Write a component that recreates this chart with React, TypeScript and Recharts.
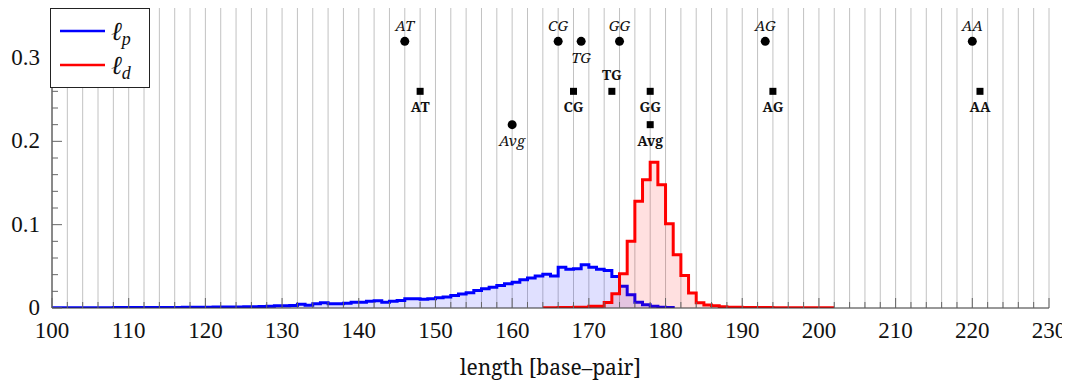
import { ComposedChart, Area, Scatter, XAxis, YAxis, CartesianGrid } from 'recharts';

// histogram of ℓ_p, bins of width 1 starting at 100
const LP_START = 100;
const LP_VALUES = [
  0.0003, 0.0003, 0.0003, 0.0003, 0.0003, 0.0003, 0.0003, 0.0003, 0.0005, 0.0005,
  0.0005, 0.0005, 0.0005, 0.0006, 0.0006, 0.0007, 0.0007, 0.0008, 0.0008, 0.0009,
  0.0010, 0.0011, 0.0011, 0.0012, 0.0013, 0.0015, 0.0016, 0.0018, 0.0020, 0.0026,
  0.0028, 0.0030, 0.0045, 0.0032, 0.0050, 0.0062, 0.0050, 0.0050, 0.0058, 0.0070,
  0.0068, 0.0080, 0.0088, 0.0070, 0.0082, 0.0090, 0.0112, 0.0112, 0.0104, 0.0112,
  0.0122, 0.0132, 0.0150, 0.0168, 0.0182, 0.0210, 0.0230, 0.0250, 0.0270, 0.0290,
  0.0310, 0.0340, 0.0360, 0.0385, 0.0405, 0.0385, 0.0490, 0.0465, 0.0470, 0.0518,
  0.0490, 0.0465, 0.0450, 0.0378, 0.0262, 0.0158, 0.0070, 0.0038, 0.0020, 0.0010,
  0.0005,
];

// histogram of ℓ_d, bins of width 1 starting at 164
const LD_START = 164;
const LD_VALUES = [
  0.0004, 0.0004, 0.0005, 0.0006, 0.0008, 0.0010, 0.0020, 0.0022, 0.0065, 0.0170,
  0.0410, 0.0800, 0.1280, 0.1540, 0.1750, 0.1480, 0.1010, 0.0640, 0.0390, 0.0180,
  0.0062, 0.0036, 0.0028, 0.0014, 0.0010, 0.0008, 0.0006, 0.0005, 0.0005, 0.0005,
  0.0004, 0.0004, 0.0004, 0.0004, 0.0004, 0.0003, 0.0003, 0.0003,
];

// marker points
const CIRCLE_NAMES = ['AT', 'CG', 'TG', 'GG', 'AG', 'AA', 'Avg'];
const CIRCLE_X = [146, 166, 169, 174, 193, 220, 160];
const CIRCLE_Y = [0.32, 0.32, 0.32, 0.32, 0.32, 0.32, 0.22];
const CIRCLE_LABEL_BELOW = ['TG', 'Avg'];

const SQUARE_NAMES = ['AT', 'CG', 'TG', 'GG', 'AG', 'AA', 'Avg'];
const SQUARE_X = [148, 168, 173, 178, 194, 221, 178];
const SQUARE_Y = [0.26, 0.26, 0.26, 0.26, 0.26, 0.26, 0.22];
const SQUARE_LABEL_ABOVE = ['TG'];

const X_MAJOR = [100, 110, 120, 130, 140, 150, 160, 170, 180, 190, 200, 210, 220, 230];
const X_TICKS = Array.from({ length: 66 }, (_, i) => 100 + i * 2);
const Y_TICKS = [0, 0.02, 0.04, 0.06, 0.08, 0.1, 0.12, 0.14, 0.16, 0.18, 0.2, 0.22, 0.24, 0.26, 0.28, 0.3, 0.32, 0.34];

const histData = (start: number, values: number[], endValue: number) => {
  const pts = values.map((v, i) => ({ x: start + i, y: v }));
  pts.push({ x: start + values.length, y: endValue });
  return pts;
};

const lpData = histData(LP_START, LP_VALUES, 0);
const ldData = histData(LD_START, LD_VALUES, LD_VALUES[LD_VALUES.length - 1]);
const circleData = CIRCLE_NAMES.map((name, i) => ({ name, x: CIRCLE_X[i], y: CIRCLE_Y[i] }));
const squareData = SQUARE_NAMES.map((name, i) => ({ name, x: SQUARE_X[i], y: SQUARE_Y[i] }));

const TICK_FONT = 'Liberation Serif';
const LABEL_FONT = 'Noto Serif';
const TICK_COLOR = '#666';

const tickText = { fontFamily: TICK_FONT, fontSize: 23, fill: '#111' };

const isMajorX = (v: number) => X_MAJOR.includes(v);
const isMajorY = (v: number) => Math.abs(v * 10 - Math.round(v * 10)) < 1e-6;

const XTickBottom = ({ x, y, payload }: any) => {
  const major = isMajorX(payload.value);
  return (
    <g>
      <line x1={x} x2={x} y1={y} y2={y - (major ? 10 : 6)} stroke={TICK_COLOR} />
      {major && (
        <text x={x} y={y + 22} dy="0.35em" textAnchor="middle" style={tickText}>
          {payload.value}
        </text>
      )}
    </g>
  );
};

const XTickTop = ({ x, y, payload }: any) => {
  const major = isMajorX(payload.value);
  return <line x1={x} x2={x} y1={y} y2={y + (major ? 10 : 6)} stroke={TICK_COLOR} />;
};

const YTickLeft = ({ x, y, payload }: any) => {
  const major = isMajorY(payload.value);
  return (
    <g>
      <line x1={x} x2={x + (major ? 10 : 6)} y1={y} y2={y} stroke={TICK_COLOR} />
      {major && (
        <text x={x - 12} y={y - 1} dy="0.35em" textAnchor="end" style={tickText}>
          {payload.value === 0 ? '0' : payload.value.toFixed(1)}
        </text>
      )}
    </g>
  );
};

const YTickRight = ({ x, y, payload }: any) => {
  const major = isMajorY(payload.value);
  return <line x1={x} x2={x - (major ? 10 : 6)} y1={y} y2={y} stroke={TICK_COLOR} />;
};

const CircleMark = ({ cx, cy, payload }: any) => {
  const below = CIRCLE_LABEL_BELOW.includes(payload.name);
  return (
    <g>
      <circle cx={cx} cy={cy} r={4.5} fill="#000" />
      <text x={cx} y={below ? cy + 16 : cy - 16} dy="0.35em" textAnchor="middle"
        style={{ fontFamily: LABEL_FONT, fontStyle: 'italic', fontSize: 15, fill: '#111' }}>
        {payload.name}
      </text>
    </g>
  );
};

const SquareMark = ({ cx, cy, payload }: any) => {
  const above = SQUARE_LABEL_ABOVE.includes(payload.name);
  return (
    <g>
      <rect x={cx - 3.5} y={cy - 3.5} width={7} height={7} fill="#000" />
      <text x={cx} y={above ? cy - 16 : cy + 16} dy="0.35em" textAnchor="middle"
        style={{ fontFamily: LABEL_FONT, fontWeight: 'bold', fontSize: 14, fill: '#111' }}>
        {payload.name}
      </text>
    </g>
  );
};

const LegendBox = () => (
  <div style={{ position: 'absolute', left: 42, top: 0, width: 100, height: 80, background: '#fff', border: '1px solid #222', boxSizing: 'border-box' }}>
    <svg width={98} height={78}>
      <line x1={9} x2={54} y1={22} y2={22} stroke="#0000ff" strokeWidth={2.5} />
      <line x1={9} x2={54} y1={56} y2={56} stroke="#ff0000" strokeWidth={2.5} />
      <text x={60} y={31} style={{ fontFamily: 'Liberation Serif', fontStyle: 'italic', fontSize: 26, fill: '#111' }}>
        ℓ<tspan dy={5} style={{ fontSize: 18 }}>p</tspan>
      </text>
      <text x={60} y={65} style={{ fontFamily: 'Liberation Serif', fontStyle: 'italic', fontSize: 26, fill: '#111' }}>
        ℓ<tspan dy={5} style={{ fontSize: 18 }}>d</tspan>
      </text>
    </svg>
  </div>
);

const AxisTitle = ({ viewBox }: any) => (
  <text x={viewBox.x + viewBox.width / 2} y={viewBox.y + viewBox.height - 10} textAnchor="middle"
    style={{ fontFamily: LABEL_FONT, fontSize: 21, fill: '#111' }}>
    length [base–pair]
  </text>
);

export default function App() {
  return (
    <div style={{ position: 'relative', width: 1062, height: 377 }}>
      <ComposedChart width={1062} height={377} margin={{ top: 0, right: 21, bottom: 0, left: 0 }}>
        <CartesianGrid horizontal={false} vertical stroke="#c2c2c2" />
        <XAxis
          dataKey="x"
          type="number"
          domain={[100, 230]}
          ticks={X_TICKS}
          interval={0}
          height={77}
          tickSize={0}
          tickMargin={0}
          tickLine={false}
          stroke="#333"
          tick={(p: any) => <XTickBottom {...p} />}
          allowDataOverflow
          label={<AxisTitle />}
        />
        <XAxis
          xAxisId="top"
          orientation="top"
          dataKey="x"
          type="number"
          domain={[100, 230]}
          ticks={X_TICKS}
          interval={0}
          height={0}
          tickSize={0}
          tickMargin={0}
          tickLine={false}
          stroke="#333"
          tick={(p: any) => <XTickTop {...p} />}
          allowDataOverflow
        />
        <YAxis
          type="number"
          domain={[0, 0.36]}
          ticks={Y_TICKS}
          interval={0}
          width={44}
          tickSize={0}
          tickMargin={0}
          tickLine={false}
          stroke="#333"
          tick={(p: any) => <YTickLeft {...p} />}
          allowDataOverflow
        />
        <YAxis
          yAxisId="right"
          orientation="right"
          type="number"
          domain={[0, 0.36]}
          ticks={Y_TICKS}
          interval={0}
          width={0}
          tickSize={0}
          tickMargin={0}
          tickLine={false}
          stroke="#333"
          tick={(p: any) => <YTickRight {...p} />}
          allowDataOverflow
        />
        <Area
          data={lpData}
          dataKey="y"
          type="stepAfter"
          stroke="#0000ff"
          strokeWidth={3}
          fill="#0000ff"
          fillOpacity={0.12}
          isAnimationActive={false}
          dot={false}
          activeDot={false}
        />
        <Area
          data={ldData}
          dataKey="y"
          type="stepAfter"
          stroke="#ff0000"
          strokeWidth={3}
          fill="#ff0000"
          fillOpacity={0.12}
          isAnimationActive={false}
          dot={false}
          activeDot={false}
        />
        <Scatter data={circleData} dataKey="y" shape={(p: any) => <CircleMark {...p} />} isAnimationActive={false} />
        <Scatter data={squareData} dataKey="y" shape={(p: any) => <SquareMark {...p} />} isAnimationActive={false} />
      </ComposedChart>
      <LegendBox />
    </div>
  );
}
